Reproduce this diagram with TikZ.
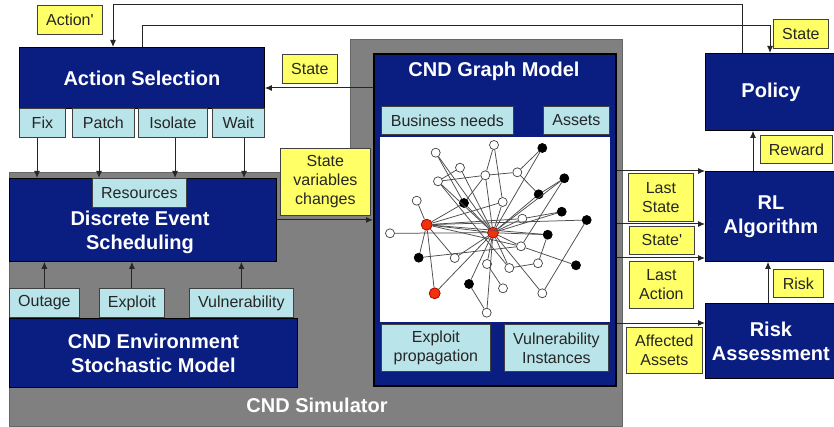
\documentclass[tikz,border=0pt]{standalone}
\usepackage{fontspec}
\setmainfont{Liberation Sans}[Ligatures=TeXOff]
\usetikzlibrary{arrows.meta,calc}
\definecolor{navy}{RGB}{10,30,130}
\definecolor{lcyan}{RGB}{184,228,234}
\definecolor{lyel}{RGB}{255,255,102}
\definecolor{gsim}{RGB}{128,128,128}
\definecolor{redn}{RGB}{240,50,10}
\newcommand\mkbox[7]{\pgfmathsetmacro\mybw{#5-#3}\pgfmathsetmacro\mybh{#6-#4}\node[#2,minimum width=\mybw pt,minimum height=\mybh pt] (#1) at (#3,#4) {#7};}
\begin{document}
\begin{tikzpicture}[x=1pt,y=-1pt,
  bluebox/.style={draw=black, line width=0.8pt, fill=navy, text=white, font=\bfseries\fontsize{20}{24}\selectfont, align=center, inner sep=0pt, anchor=north west},
  cbox/.style={draw=black!75, line width=0.8pt, fill=lcyan, text=black!85, font=\fontsize{16}{19}\selectfont, align=center, inner sep=0pt, anchor=north west},
  ybox/.style={cbox, fill=lyel},
  btxt/.style={text=white, font=\bfseries\fontsize{20}{24}\selectfont, align=center},
  arr/.style={draw=black!85, line width=1pt, -{Latex[length=7pt,width=6pt]}},
  ge/.style={draw=black!70, line width=0.75pt},
  wn/.style={circle, draw=black!75, fill=white, line width=0.7pt, minimum size=9pt, inner sep=0pt},
  bn/.style={wn, fill=black, draw=black},
  rn/.style={wn, fill=redn, draw=red!60!black, minimum size=11pt}]
\useasboundingbox (0,0) rectangle (834,427);
\fill[white] (0,0) rectangle (834,427);
% simulator background
\draw[fill=gsim, draw=black!60, line width=1pt] (350,40) -- (622,40) -- (622,426) -- (9,426) -- (9,173) -- (350,173) -- cycle;
\node[btxt] (simtext) at (317,405) {CND Simulator};
% action selection
\mkbox{as}{bluebox}{19}{47}{264}{108}{Action Selection}
\mkbox{fix}{cbox}{19}{108}{65}{137}{Fix}
\mkbox{patch}{cbox}{72}{108}{134}{137}{Patch}
\mkbox{isolate}{cbox}{138}{108}{207}{137}{Isolate}
\mkbox{wait}{cbox}{212}{108}{264}{137}{Wait}
% discrete event scheduling
\mkbox{des}{bluebox}{9}{178}{276}{261}{}
\node[btxt] (destext) at (140,232) {Discrete Event\\Scheduling};
\mkbox{res}{cbox}{92}{178}{186}{207}{Resources}
\mkbox{outage}{cbox}{9}{288}{79}{317}{Outage}
\mkbox{exploit}{cbox}{99}{288}{164}{317}{Exploit}
\mkbox{vuln}{cbox}{189}{288}{293}{317}{Vulnerability}
\mkbox{env}{bluebox}{9}{318}{297}{387}{CND Environment\\Stochastic Model}
% graph model
\mkbox{gm}{bluebox, line width=2pt}{373}{53}{615}{385}{}
\node[btxt] (gmtitle) at (494,71) {CND Graph Model};
\mkbox{bus}{cbox}{381}{106}{513}{134}{Business needs}
\mkbox{assets}{cbox}{543}{106}{609}{134}{Assets}
\mkbox{garea}{fill=white, inner sep=0pt, anchor=north west}{380}{137}{610}{322}{}
\mkbox{expl}{cbox}{381}{324}{490}{371}{Exploit\\propagation}
\mkbox{vinst}{cbox}{504}{324}{608}{371}{Vulnerability\\Instances}
% graph
\node[wn] (g1) at (435.7,152.7) {};
\node[wn] (g2) at (494,145) {};
\node[bn] (g3) at (542.3,148) {};
\node[wn] (g4) at (460,167.7) {};
\node[wn] (g5) at (485.3,175.3) {};
\node[wn] (g6) at (517.3,172.3) {};
\node[bn] (g7) at (564.3,178.3) {};
\node[wn] (g8) at (438,181.3) {};
\node[bn] (g9) at (538.7,194.3) {};
\node[wn] (g10) at (416.7,200.7) {};
\node[bn] (g11) at (464,203) {};
\node[wn] (g12) at (502.7,202) {};
\node[bn] (g13) at (561.7,211.7) {};
\node[wn] (g14) at (522.3,218.7) {};
\node[bn] (g15) at (586.7,220) {};
\node[rn] (g16) at (426.7,224.7) {};
\node[rn] (g17) at (493,232.7) {};
\node[wn] (g18) at (390,233.3) {};
\node[bn] (g19) at (547.7,234.7) {};
\node[wn] (g20) at (521,246.3) {};
\node[bn] (g21) at (418.7,257.7) {};
\node[wn] (g22) at (454.7,258) {};
\node[wn] (g23) at (487,264) {};
\node[wn] (g24) at (538,263.3) {};
\node[wn] (g25) at (509.3,268) {};
\node[bn] (g26) at (576,265.3) {};
\node[bn] (g27) at (469,284) {};
\node[wn] (g28) at (503,288.3) {};
\node[rn] (g29) at (434.7,293.3) {};
\node[wn] (g30) at (542.3,293.3) {};
\node[wn] (g31) at (486.7,312.7) {};
\foreach \a/\b in {17/1,17/3,17/4,17/5,17/7,17/8,17/9,17/12,17/13,17/14,17/16,17/18,17/19,17/20,17/22,17/23,17/25,17/27,17/29,17/30,17/31,17/11,
  1/11,4/8,8/5,8/25,5/2,5/6,5/11,2/12,3/6,6/9,7/9,7/20,10/16,11/16,12/16,13/14,16/15,16/14,16/19,16/21,16/22,16/29,16/20,15/30,21/20,23/28,24/25,24/19,26/20,27/31}
  \draw[ge] (g\a) -- (g\b);
% right side
\mkbox{policy}{bluebox}{705}{53}{836}{130}{Policy}
\mkbox{rl}{bluebox}{705}{171}{836}{261}{RL\\Algorithm}
\mkbox{ra}{bluebox}{705}{303}{836}{378}{Risk\\Assessment}
% labels
\mkbox{actp}{ybox}{37}{5}{102}{34}{Action'}
\mkbox{stateA}{ybox}{282}{54}{337}{83}{State}
\mkbox{svc}{ybox}{280}{148}{370}{215}{State\\variables\\changes}
\mkbox{stateP}{ybox}{773}{19}{828}{48}{State}
\mkbox{reward}{ybox}{760}{135}{832}{163}{Reward}
\mkbox{risk}{ybox}{773}{269}{823}{297}{Risk}
\mkbox{lstate}{ybox}{628}{173}{693}{221}{Last\\State}
\mkbox{statep}{ybox}{629}{226}{694}{254}{State'}
\mkbox{laction}{ybox}{629}{261}{693}{308}{Last\\Action}
\mkbox{aff}{ybox}{626}{327}{702}{373}{Affected\\Assets}
% connectors
\draw[arr] ([xshift=37pt]policy.north west) |- ([xshift=94pt,yshift=42pt]as.north west) -- ([xshift=94pt]as.north west);
\draw[arr] ([xshift=123pt]as.north west) |- ([xshift=65pt,yshift=27pt]policy.north west) -- ([xshift=65pt]policy.north west);
\coordinate (st) at ([yshift=-35pt]gm.north west);
\draw[arr] (st) -- (st -| as.east);
\draw[arr] (fix.south -| 37,0) -- (des.north -| 37,0);
\draw[arr] (patch.south -| 99,0) -- (des.north -| 99,0);
\draw[arr] (isolate.south -| 175,0) -- (des.north -| 175,0);
\draw[arr] (wait.south -| 244,0) -- (des.north -| 244,0);
\draw[arr] (outage.north) -- (outage.north |- des.south);
\draw[arr] (exploit.north) -- (exploit.north |- des.south);
\draw[arr] (vuln.north) -- (vuln.north |- des.south);
\draw[arr] (des.east) -- (des.east -| gm.west);
\draw[arr] (gm.east |- 0,171) -- (rl.west |- 0,171);
\draw[arr] (gm.east |- 0,224) -- (rl.west |- 0,224);
\draw[arr] (gm.east |- 0,258) -- (rl.west |- 0,258);
\draw[arr] (gm.east |- 0,323) -- (ra.west |- 0,323);
\draw[arr] (rl.north -| 753,0) -- (policy.south -| 753,0);
\draw[arr] (ra.north -| 768,0) -- (rl.south -| 768,0);
\end{tikzpicture}
\end{document}
